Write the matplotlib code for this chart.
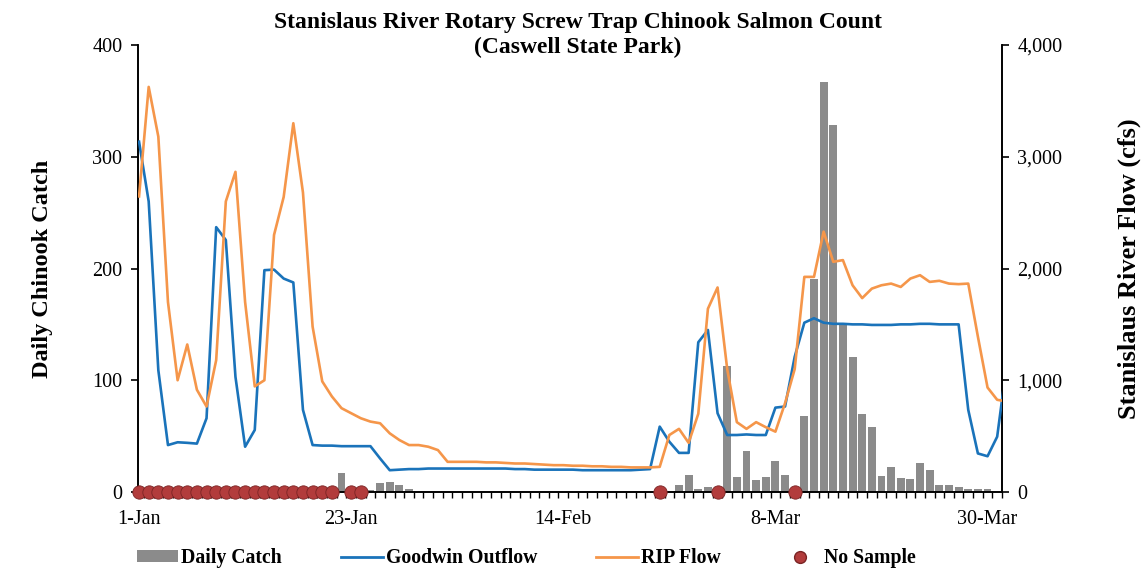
import numpy as np
import pandas as pd
import matplotlib
matplotlib.use("Agg")
import matplotlib.pyplot as plt
from matplotlib.lines import Line2D
from matplotlib.patches import Patch
from matplotlib.ticker import FuncFormatter, FixedLocator

# ---------------- data ----------------
start_date = "2015-01-01"
n_days = 90

daily_catch = [
    0, 0, 0, 0, 0, 0, 0, 0, 0, 0,
    0, 0, 0, 0, 0, 0, 0, 0, 0, 0,
    0, 17, 0, 0, 1.5, 8, 9, 6, 2.5, 0,
    0, 0, 0, 0, 0, 0, 0, 0, 0, 0,
    0, 0, 0, 0, 0, 0, 0, 0, 0, 0,
    0, 0, 0, 0, 0, 0, 6, 15, 2.4, 4.5,
    0, 113, 13, 37, 11, 13, 28, 15, 0, 68,
    191, 367, 328, 149, 121, 70, 58, 14, 22, 12.5,
    12, 26, 20, 6.5, 6.5, 4.5, 2.5, 3, 2.5, 0,
]

goodwin_outflow = [
    3135, 2600, 1090, 420, 445, 440, 433, 660, 2370, 2255,
    1030, 405, 555, 1985, 1990, 1910, 1875, 735, 420, 415,
    415, 410, 410, 410, 410, 300, 195, 200, 205, 205,
    210, 210, 210, 210, 210, 210, 210, 210, 210, 205,
    205, 200, 200, 200, 200, 200, 195, 195, 195, 195,
    195, 195, 200, 205, 585, 450, 350, 350, 1340, 1450,
    705, 510, 510, 515, 510, 510, 755, 765, 1210, 1515,
    1555, 1515, 1505, 1505, 1500, 1500, 1495, 1495, 1495, 1500,
    1500, 1505, 1505, 1500, 1500, 1500, 735, 345, 320, 495,
    1150,
]

rip_flow = [
    2645, 3625, 3180, 1700, 1000, 1320, 915, 765, 1180, 2600,
    2865, 1700, 945, 1000, 2300, 2640, 3300, 2680, 1480, 990,
    855, 750, 705, 660, 630, 615, 525, 465, 420, 420,
    405, 375, 270, 270, 270, 270, 265, 265, 260, 255,
    255, 250, 245, 240, 240, 235, 235, 230, 230, 225,
    225, 220, 220, 220, 225, 510, 565, 440, 700, 1640,
    1830, 1100, 625, 565, 625, 580, 540, 795, 1100, 1925,
    1925, 2330, 2060, 2075, 1850, 1735, 1820, 1850, 1865, 1835,
    1910, 1940, 1880, 1890, 1865, 1860, 1865, 1390, 935, 825,
    810,
]

no_sample_days = list(range(0, 21)) + [22, 23, 54, 60, 68]

label_every = 22

title = "Stanislaus River Rotary Screw Trap Chinook Salmon Count\n(Caswell State Park)"
left_label = "Daily Chinook Catch"
right_label = "Stanislaus River Flow (cfs)"

# ---------------- style ----------------
plt.rcParams["font.family"] = ["Liberation Serif", "DejaVu Serif"]

BAR_COLOR = "#8b8b8b"
BLUE = "#1A73BA"
ORANGE = "#F5964A"
DOT_FACE = "#b23c3c"
DOT_EDGE = "#7a2424"

W, H = 1144, 579
fig = plt.figure(figsize=(W / 100, H / 100), dpi=100)

left_px, right_px, top_px, bottom_px = 137.6, 1002, 45, 492
ax = fig.add_axes([left_px / W, 1 - bottom_px / H,
                   (right_px - left_px) / W, (bottom_px - top_px) / H])
ax2 = ax.twinx()

days = np.arange(n_days)
dates = pd.date_range(start_date, periods=n_days)

ax.bar(days, daily_catch, width=0.82, color=BAR_COLOR, zorder=2)

ax2.plot(np.arange(len(goodwin_outflow)), goodwin_outflow, color=BLUE, lw=1.9,
         zorder=3, solid_joinstyle="round")
ax2.plot(np.arange(len(rip_flow)), rip_flow, color=ORANGE, lw=1.9, zorder=4,
         solid_joinstyle="round")
ax2.plot(no_sample_days, np.zeros(len(no_sample_days)), "o", ms=9.6,
         mfc=DOT_FACE, mec=DOT_EDGE, mew=0.6, zorder=6, clip_on=False)

# axes limits
ax.set_xlim(-0.15, 89.5)
ax.set_ylim(0, 400)
ax2.set_ylim(0, 4000)

# ticks
ax.set_yticks([0, 100, 200, 300, 400])
ax2.set_yticks([0, 1000, 2000, 3000, 4000])
ax2.yaxis.set_major_formatter(FuncFormatter(lambda v, p: f"{int(v):,}"))

label_pos = days[::label_every]
ax.set_xticks(label_pos)
ax.set_xticklabels([f"{d.day}-{d.strftime('%b')}" for d in dates[::label_every]])
ax.xaxis.set_minor_locator(FixedLocator(np.arange(0.5, 89.6, 1.0)))

ax.tick_params(axis="x", which="major", length=0, pad=13, labelsize=14.5)
ax.tick_params(axis="x", which="minor", length=4, width=1.0, direction="out")
ax.tick_params(axis="y", which="major", length=5, width=1.2, direction="out",
               labelsize=14.5, pad=6)
ax2.tick_params(axis="y", which="major", length=5, width=1.2, direction="out",
                labelsize=14.5, pad=6)

for a in (ax, ax2):
    a.spines["top"].set_visible(False)
    for s in ("left", "right", "bottom"):
        a.spines[s].set_linewidth(1.2)
        a.spines[s].set_color("black")

ax.set_ylabel(left_label, fontsize=17.5, fontweight="bold", labelpad=28)
ax2.set_ylabel(right_label, fontsize=19, fontweight="bold", labelpad=40)

fig.text(578 / W, 1 - 12 / H, title,
         ha="center", va="top", fontsize=17, fontweight="bold", linespacing=1.25)

handles = [
    Patch(facecolor=BAR_COLOR, edgecolor="none"),
    Line2D([], [], color=BLUE, lw=2),
    Line2D([], [], color=ORANGE, lw=2),
    Line2D([], [], ls="none", marker="o", ms=8.5, mfc=DOT_FACE, mec=DOT_EDGE),
]
labels = ["Daily Catch", "Goodwin Outflow", "RIP Flow", "No Sample"]
fig.legend(handles, labels, loc="center", bbox_to_anchor=(0.46, 0.036),
           ncol=4, frameon=False, prop={"weight": "bold", "size": 14.2},
           handlelength=2.1, handletextpad=0.15, columnspacing=3.0,
           handleheight=0.6)

fig.savefig("out.png", dpi=100)
